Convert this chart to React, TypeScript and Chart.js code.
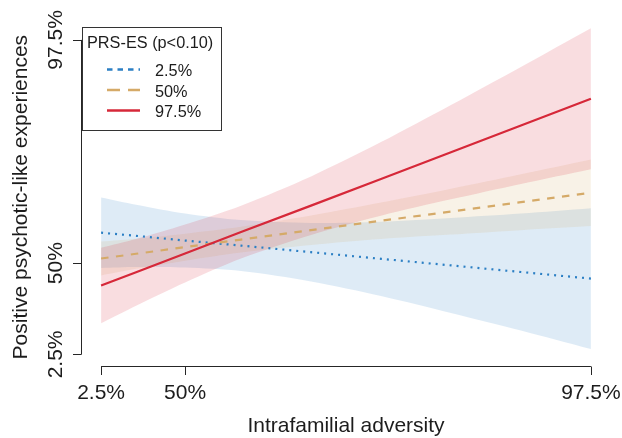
import React, { useEffect, useRef } from "react";
import { Chart, registerables } from "chart.js";

Chart.register(...registerables);

// ---- data ----
const xValues = [0, 0.5, 1.2, 2, 3, 4, 5, 6, 7];
const xTickValues = [0, 1.2, 7];
const xTickLabels = ["2.5%", "50%", "97.5%"];
const yTickValues = [0, 2.9, 10];
const yTickLabels = ["2.5%", "50%", "97.5%"];
const legendTitle = "PRS-ES (p<0.10)";
const legendLabels = ["2.5%", "50%", "97.5%"];
const xTitle = "Intrafamilial adversity";
const yTitle = "Positive psychotic-like experiences";

// PRS-ES 2.5%
const lowMean = [3.87, 3.77, 3.62, 3.46, 3.25, 3.04, 2.83, 2.62, 2.41];
const lowUpper = [4.99, 4.76, 4.48, 4.27, 4.18, 4.22, 4.34, 4.48, 4.65];
const lowLower = [2.75, 2.78, 2.76, 2.65, 2.32, 1.86, 1.32, 0.76, 0.17];
// PRS-ES 50%
const midMean = [3.05, 3.2, 3.41, 3.65, 3.95, 4.25, 4.54, 4.84, 5.14];
const midUpper = [3.59, 3.68, 3.84, 4.06, 4.42, 4.83, 5.27, 5.73, 6.2];
const midLower = [2.51, 2.72, 2.98, 3.24, 3.48, 3.67, 3.81, 3.95, 4.08];
// PRS-ES 97.5%
const highMean = [2.19, 2.61, 3.21, 3.89, 4.73, 5.58, 6.43, 7.28, 8.13];
const highUpper = [3.39, 3.67, 4.13, 4.73, 5.66, 6.75, 7.93, 9.14, 10.37];
const highLower = [0.99, 1.55, 2.29, 3.05, 3.8, 4.41, 4.93, 5.42, 5.89];

// ---- styles ----
const FONT = '"Liberation Sans", Arial, Helvetica, sans-serif';
const BLUE = "rgb(43,127,196)";
const BEIGE = "rgb(213,170,104)";
const RED = "rgb(214,40,57)";
const BLUE_BAND = "rgba(43,127,196,0.155)";
const BEIGE_BAND = "rgba(213,170,104,0.155)";
const RED_BAND = "rgba(214,40,57,0.155)";
const DOT = [2, 5];
const DASH = [7.5, 7.5];

const pts = (ys: number[]) => xValues.map((x, i) => ({ x, y: ys[i] }));

const rPlugin = {
  id: "rStyle",
  afterDraw(chart: any) {
    const { ctx, chartArea, scales } = chart;
    const xs = scales.x;
    const ys = scales.y;
    ctx.save();
    ctx.strokeStyle = "#262626";
    ctx.fillStyle = "#1c1c1c";
    ctx.lineWidth = 1;

    // x axis
    const axY = Math.round(chartArea.bottom) - 0.5;
    const xa = xs.getPixelForValue(xTickValues[0]);
    const xb = xs.getPixelForValue(xTickValues[xTickValues.length - 1]);
    ctx.beginPath();
    ctx.moveTo(xa, axY);
    ctx.lineTo(xb, axY);
    xTickValues.forEach((v) => {
      const px = Math.round(xs.getPixelForValue(v)) + 0.5;
      ctx.moveTo(px, axY);
      ctx.lineTo(px, axY + 8.5);
    });
    ctx.stroke();
    ctx.font = `21px ${FONT}`;
    ctx.textAlign = "center";
    ctx.textBaseline = "alphabetic";
    xTickValues.forEach((v, i) => {
      ctx.fillText(xTickLabels[i], xs.getPixelForValue(v), 399);
    });

    // y axis
    const axX = Math.round(chartArea.left) - 0.5;
    const ya = ys.getPixelForValue(yTickValues[0]);
    const yb = ys.getPixelForValue(yTickValues[yTickValues.length - 1]);
    ctx.beginPath();
    ctx.moveTo(axX, ya);
    ctx.lineTo(axX, yb);
    yTickValues.forEach((v) => {
      const py = Math.round(ys.getPixelForValue(v)) + 0.5;
      ctx.moveTo(axX, py);
      ctx.lineTo(axX - 8.5, py);
    });
    ctx.stroke();
    yTickValues.forEach((v, i) => {
      ctx.save();
      ctx.translate(61.5, ys.getPixelForValue(v));
      ctx.rotate(-Math.PI / 2);
      ctx.fillText(yTickLabels[i], 0, 0);
      ctx.restore();
    });

    // axis titles
    ctx.fillText(xTitle, (chartArea.left + chartArea.right) / 2, 432);
    ctx.save();
    ctx.translate(26.7, (chartArea.top + chartArea.bottom) / 2);
    ctx.rotate(-Math.PI / 2);
    ctx.fillText(yTitle, 0, 0);
    ctx.restore();

    // legend
    ctx.fillStyle = "#ffffff";
    ctx.fillRect(82.5, 27.5, 139, 103);
    ctx.strokeStyle = "#333333";
    ctx.strokeRect(82.5, 27.5, 139, 103);
    ctx.fillStyle = "#1c1c1c";
    ctx.font = `16.3px ${FONT}`;
    ctx.textAlign = "left";
    ctx.fillText(legendTitle, 87, 48.3);
    const rows = [
      { color: BLUE, dash: [5.5, 5], y: 69.5, base: 76 },
      { color: BEIGE, dash: [13, 8], y: 90, base: 96.5 },
      { color: RED, dash: [] as number[], y: 110.5, base: 117 },
    ];
    rows.forEach((r, i) => {
      ctx.save();
      ctx.strokeStyle = r.color;
      ctx.lineWidth = 2.6;
      ctx.setLineDash(r.dash);
      ctx.beginPath();
      ctx.moveTo(107, r.y);
      ctx.lineTo(140, r.y);
      ctx.stroke();
      ctx.restore();
      ctx.fillText(legendLabels[i], 155, r.base);
    });
    ctx.restore();
  },
};

export default function App() {
  const ref = useRef<HTMLCanvasElement | null>(null);
  useEffect(() => {
    document.body.style.margin = "0";
    const canvas = ref.current;
    if (!canvas) return;
    const band = (data: number[], color: string, fillTo: number | false) => ({
      data: pts(data),
      borderWidth: 0,
      borderColor: "rgba(0,0,0,0)",
      backgroundColor: color,
      pointRadius: 0,
      tension: 0.3,
      fill: fillTo === false ? false : fillTo,
    });
    const line = (data: number[], color: string, dash: number[]) => ({
      data: pts(data),
      borderColor: color,
      borderWidth: 2.2,
      borderDash: dash,
      pointRadius: 0,
      tension: 0,
      fill: false,
    });
    const chart = new Chart(canvas, {
      type: "line",
      data: {
        datasets: [
          line(highMean, RED, []),
          line(midMean, BEIGE, DASH),
          line(lowMean, BLUE, DOT),
          band(highUpper, RED_BAND, 4),
          band(highLower, RED_BAND, false),
          band(midUpper, BEIGE_BAND, 6),
          band(midLower, BEIGE_BAND, false),
          band(lowUpper, BLUE_BAND, 8),
          band(lowLower, BLUE_BAND, false),
        ] as any,
      },
      options: {
        responsive: false,
        animation: false,
        events: [],
        layout: { padding: { left: 81.5, right: 11.5, top: 27.3, bottom: 71 } },
        scales: {
          x: { type: "linear", min: -0.28, max: 7.28, display: false },
          y: { type: "linear", min: -0.4, max: 10.4, display: false },
        },
        plugins: {
          legend: { display: false },
          tooltip: { enabled: false },
        },
      },
      plugins: [rPlugin],
    });
    return () => chart.destroy();
  }, []);
  return (
    <canvas
      ref={ref}
      width={622}
      height={438}
      style={{ display: "block", width: 622, height: 438 }}
    />
  );
}
